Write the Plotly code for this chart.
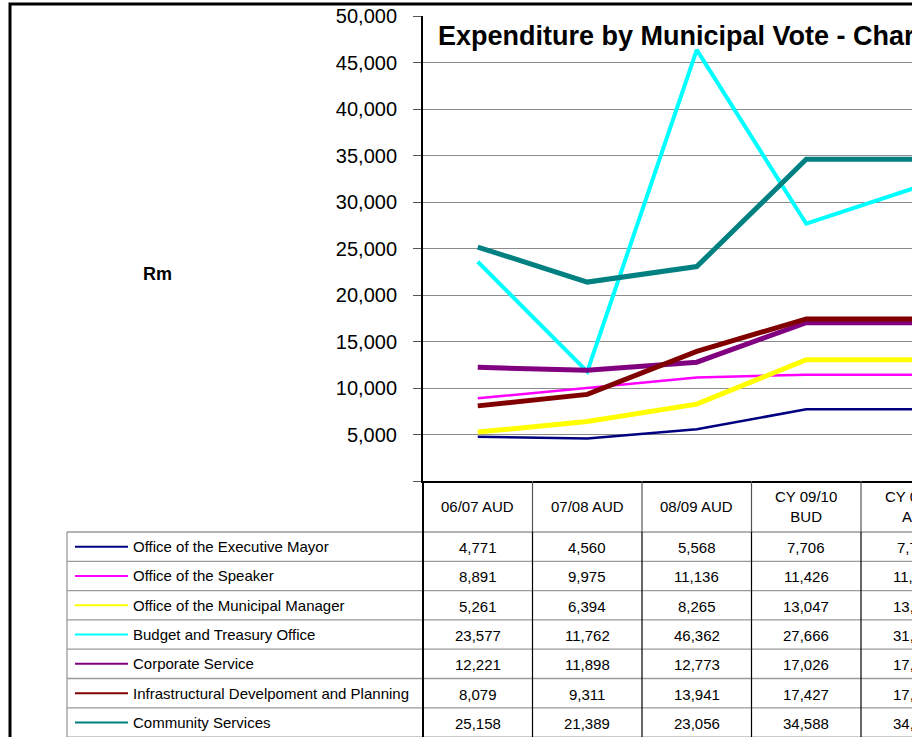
import plotly.graph_objects as go

# ---- data -------------------------------------------------------------
categories = ["06/07 AUD", "07/08 AUD", "08/09 AUD", "CY 09/10<br>BUD", "CY 09/10<br>ADJ"]

votes = [
    "Office of the Executive Mayor",
    "Office of the Speaker",
    "Office of the Municipal Manager",
    "Budget and Treasury Office",
    "Corporate Service",
    "Infrastructural Develpoment and Planning",
    "Community Services",
]

executive_mayor = [4771, 4560, 5568, 7706, 7706]
speaker = [8891, 9975, 11136, 11426, 11426]
municipal_manager = [5261, 6394, 8265, 13047, 13047]
budget_treasury = [23577, 11762, 46362, 27666, 31540]
corporate_service = [12221, 11898, 12773, 17026, 17026]
infrastructure = [8079, 9311, 13941, 17427, 17427]
community_services = [25158, 21389, 23056, 34588, 34588]

series = [executive_mayor, speaker, municipal_manager, budget_treasury,
          corporate_service, infrastructure, community_services]

y_ticks = [0, 5000, 10000, 15000, 20000, 25000, 30000, 35000, 40000, 45000, 50000]

# ---- styling ----------------------------------------------------------
colors = ["#000080", "#FF00FF", "#FFFF00", "#00FFFF", "#800080", "#800000", "#008080"]
widths = [2.5, 2.5, 5, 4, 5, 5, 5]
FONT = "Liberation Sans, Arial, sans-serif"

W, H = 912, 737


def px(x):
    return x / W


def py(y):
    return 1 - y / H


x_left = 423          # y-axis position (pixels)
col_w = 109.5         # width of one category column (pixels)
x_range = [-0.5, -0.5 + (W - x_left) / col_w]
x_dom = [px(x_left), 1.0]


def col_x(v):
    """Category coordinate -> paper x, following the x axis scale."""
    return x_dom[0] + (v - x_range[0]) / (x_range[1] - x_range[0]) * (x_dom[1] - x_dom[0])


fig = go.Figure()

for name, vals, c, w in zip(votes, series, colors, widths):
    fig.add_trace(go.Scatter(
        x=list(range(len(categories))), y=vals, name=name, mode="lines",
        line=dict(color=c, width=w), showlegend=False,
    ))

shapes = []
annotations = []

# outer chart border
shapes.append(dict(type="rect", xref="paper", yref="paper",
                   x0=px(10), x1=px(W + 30), y0=py(H + 30), y1=py(4),
                   line=dict(color="black", width=3)))

# data table grid
header_top, header_bot = 481, 532
row_h = 29.3
n_rows = len(votes)
row_edges = [header_bot + i * row_h for i in range(n_rows + 1)]
grid_grey = "#9a9a9a"

for y in row_edges:
    shapes.append(dict(type="line", xref="paper", yref="paper",
                       x0=px(67), x1=1.05, y0=py(y), y1=py(y),
                       line=dict(color=grid_grey, width=1.3)))

# legend column left border
shapes.append(dict(type="line", xref="paper", yref="paper",
                   x0=px(67), x1=px(67), y0=py(header_bot), y1=py(H + 10),
                   line=dict(color=grid_grey, width=1.3)))
# column separators
for i in range(len(categories) + 1):
    xb = col_x(i - 0.5)
    shapes.append(dict(type="line", xref="paper", yref="paper",
                       x0=xb, x1=xb, y0=py(header_top), y1=py(header_bot),
                       line=dict(color="#555555" if i else "black", width=1.2 if i else 2)))
    shapes.append(dict(type="line", xref="paper", yref="paper",
                       x0=xb, x1=xb, y0=py(header_bot), y1=py(H + 10),
                       line=dict(color="black", width=1.2 if i else 2)))

# column headers
for i, cat in enumerate(categories):
    annotations.append(dict(xref="paper", yref="paper", x=col_x(i), y=py(506),
                            text=cat, showarrow=False, xanchor="center", yanchor="middle",
                            font=dict(family=FONT, size=15, color="black")))

# table rows: legend key + values
for r, (name, vals, c) in enumerate(zip(votes, series, colors)):
    yc = (row_edges[r] + row_edges[r + 1]) / 2
    shapes.append(dict(type="line", xref="paper", yref="paper",
                       x0=px(75), x1=px(128), y0=py(yc), y1=py(yc),
                       line=dict(color=c, width=2)))
    annotations.append(dict(xref="paper", yref="paper", x=px(131), y=py(yc),
                            text=name, showarrow=False, xanchor="left", yanchor="middle",
                            font=dict(family=FONT, size=15, color="black")))
    for i, v in enumerate(vals):
        annotations.append(dict(xref="paper", yref="paper", x=col_x(i), y=py(yc + 1),
                                text=f"{v:,}", showarrow=False, xanchor="center", yanchor="middle",
                                font=dict(family=FONT, size=15, color="black")))

# title and axis caption
annotations.append(dict(xref="paper", yref="paper", x=px(436), y=py(36),
                        text="<b>Expenditure by Municipal Vote - Chart</b>", showarrow=False,
                        xanchor="left", yanchor="middle",
                        font=dict(family=FONT, size=27, color="black")))
annotations.append(dict(xref="paper", yref="paper", x=px(157), y=py(274),
                        text="<b>Rm</b>", showarrow=False, xanchor="center", yanchor="middle",
                        font=dict(family=FONT, size=18, color="black")))

fig.update_layout(
    width=W, height=H,
    margin=dict(l=0, r=0, t=0, b=0, autoexpand=False),
    paper_bgcolor="white", plot_bgcolor="white",
    font=dict(family=FONT, color="black"),
    shapes=shapes, annotations=annotations,
    xaxis=dict(domain=x_dom, range=x_range, showticklabels=False, ticks="",
               showgrid=False, zeroline=False, showline=True, linecolor="black",
               linewidth=2, fixedrange=True, automargin=False),
    yaxis=dict(domain=[py(481), py(16)], range=[0, 50000],
               tickvals=y_ticks,
               ticktext=["" if v == 0 else f"{v:,}" for v in y_ticks],
               ticks="outside", ticklen=8, tickcolor="#555555", tickwidth=1,
               tickfont=dict(family=FONT, size=20, color="black"),
               ticklabelstandoff=12,
               showgrid=True, gridcolor="#8c8c8c", gridwidth=1.2,
               zeroline=False, showline=True, linecolor="black", linewidth=2,
               fixedrange=True, automargin=False),
)

fig.write_html("out.html")
